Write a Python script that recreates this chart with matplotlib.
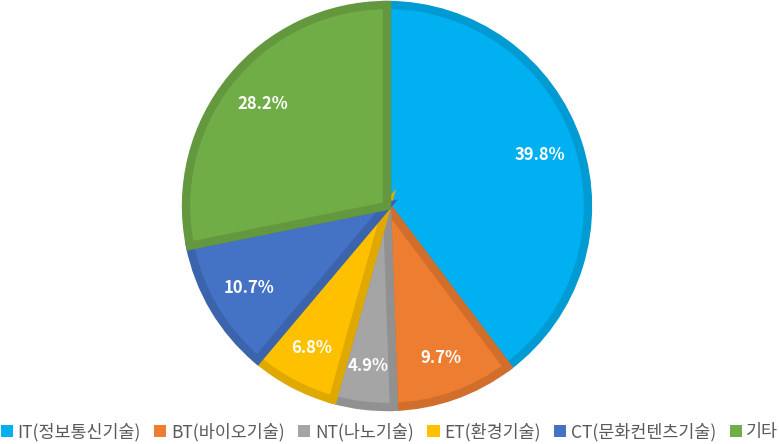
import matplotlib
matplotlib.use("Agg")
import matplotlib.pyplot as plt
from matplotlib.colors import to_rgb
from matplotlib.patches import Patch

plt.rcParams['font.family'] = ['Noto Sans CJK KR', 'DejaVu Sans']

# data
labels = ['IT(정보통신기술)', 'BT(바이오기술)', 'NT(나노기술)', 'ET(환경기술)',
          'CT(문화컨텐츠기술)', '기타']
values = [39.8, 9.7, 4.9, 6.8, 10.7, 28.2]
colors = ['#00B0F0', '#ED7D31', '#A5A5A5', '#FFC000', '#4472C4', '#70AD47']


def darker(c, f=0.88):
    r, g, b = to_rgb(c)
    return (r * f, g * f, b * f)


fig = plt.figure(figsize=(7.79, 4.44), dpi=100)
W, H = 779, 444
cx, cy, R = 387, 206, 201
ax = fig.add_axes([(cx - R) / W, (H - cy - R) / H, 2 * R / W, 2 * R / H])

wedges, texts, autotexts = ax.pie(
    values, colors=colors, startangle=90, counterclock=False,
    autopct=lambda p: f'{p:.1f}%', pctdistance=0.8, normalize=True,
    wedgeprops=dict(linewidth=6),
    textprops=dict(color='white', fontsize=12, fontweight='bold'))

for w, c in zip(wedges, colors):
    w.set_edgecolor(darker(c))
    w.set_clip_path(w)

# show the label values as given in the source
for t, v in zip(autotexts, values):
    t.set_text(f'{v:.1f}%')

ax.set_xlim(-1, 1)
ax.set_ylim(-1, 1)
ax.set_aspect('equal')
ax.axis('off')

handles = [Patch(facecolor=c, edgecolor='none') for c in colors]
fig.legend(handles, labels, loc='center', bbox_to_anchor=(0.5, 1 - 432 / H),
           ncol=6, frameon=False, fontsize=12.5, handlelength=0.7,
           handleheight=0.7, handletextpad=0.25, columnspacing=0.8,
           labelcolor='#595959', borderpad=0)

fig.savefig('out.png', dpi=100)
